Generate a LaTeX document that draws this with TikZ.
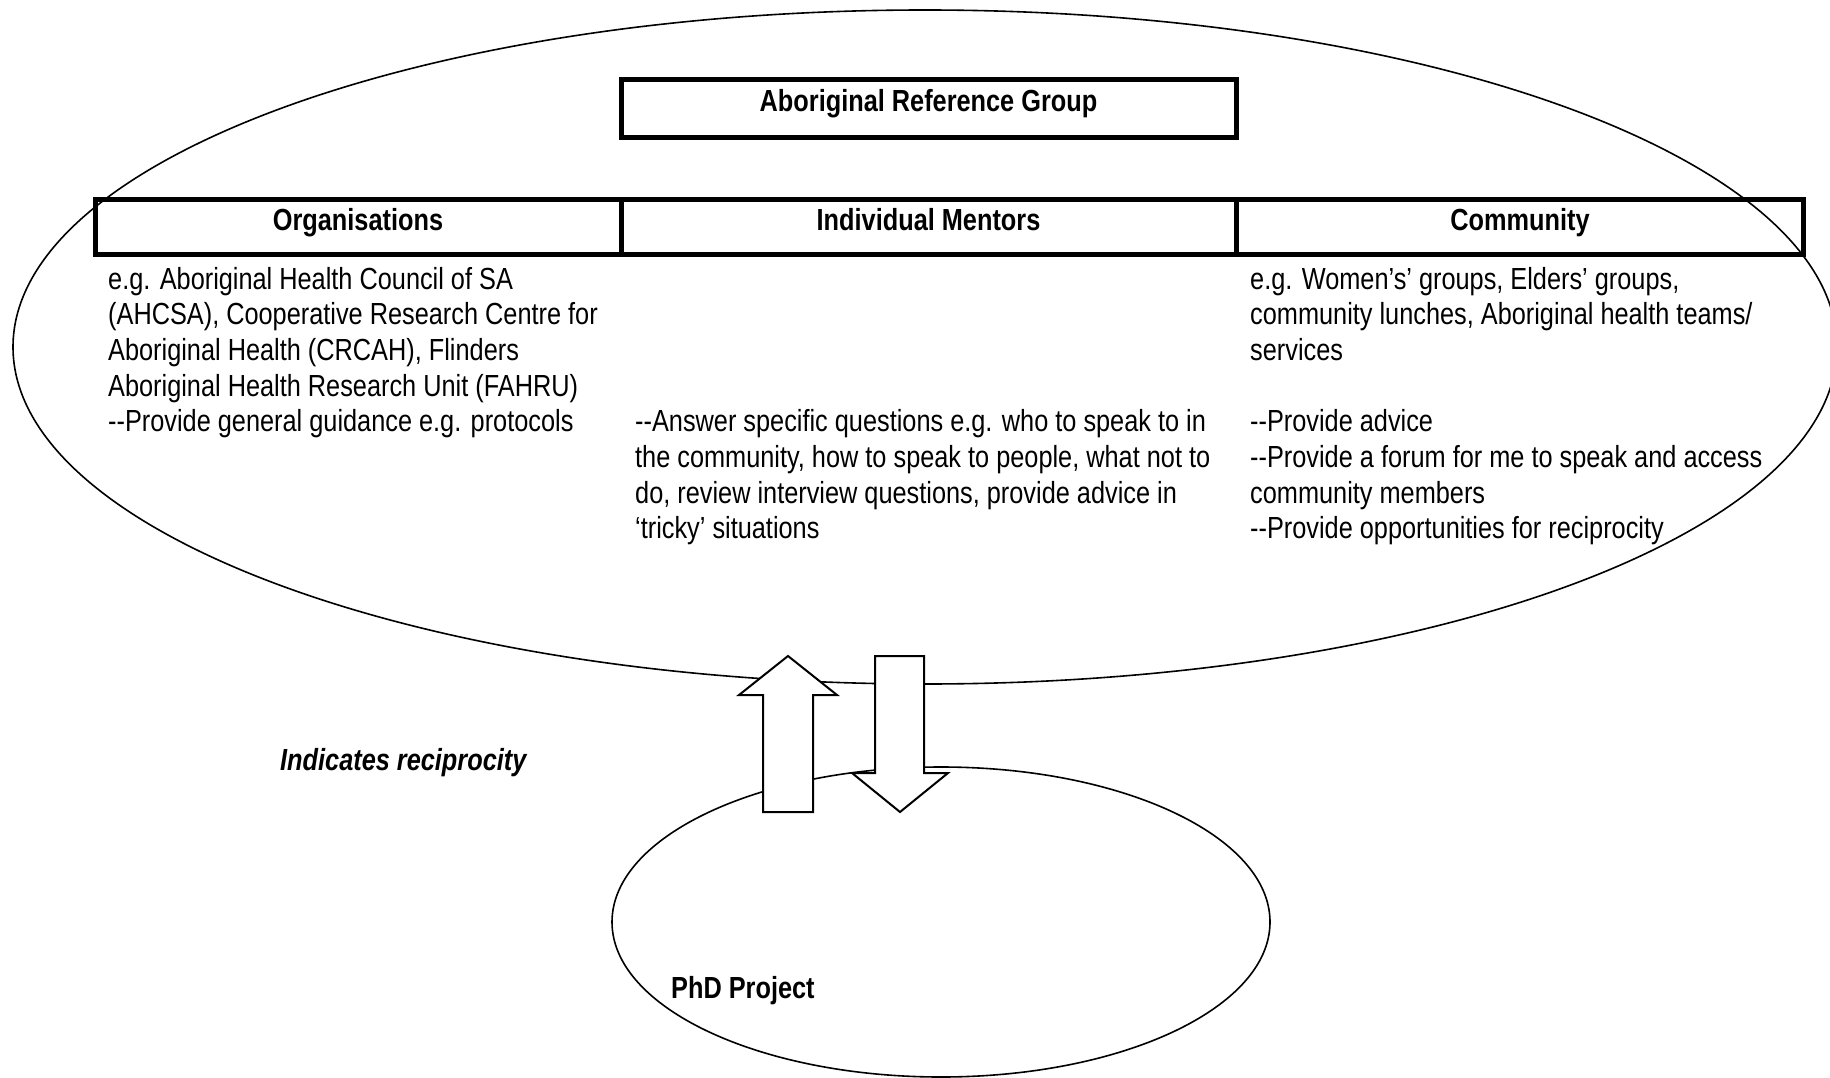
\documentclass[tikz,border=0pt]{standalone}
\usepackage{fontspec}
\setmainfont{Liberation Sans}[FakeStretch=0.83, Ligatures=TeXOff]
\begin{document}
\begin{tikzpicture}[x=1pt,y=-1pt,
  thickbox/.style={draw=black, line width=5pt, rectangle, inner sep=0pt},
  thinline/.style={draw=black, line width=1.6pt},
  bigarrow/.style={draw=black, fill=white, line width=2pt, line join=miter},
  txt/.style={anchor=base west, inner sep=0pt, font=\fontsize{30.5}{35.7}\selectfont},
  hdr/.style={anchor=base, inner sep=0pt, font=\fontsize{30.5}{35.7}\selectfont\bfseries},
  every node/.append style={text=black}]
\useasboundingbox (0,0) rectangle (1830,1078);
% ellipses
\draw[thinline] (925,347) ellipse [x radius=912, y radius=337];
\draw[thinline] (941,922) ellipse [x radius=329, y radius=155];
% top box
\node[thickbox, minimum width=615pt, minimum height=58pt] (arg) at (928.5,108.5) {};
\node[hdr] (argt) at (928.5,112) {Aboriginal Reference Group};
% header row
\node[thickbox, minimum width=1708pt, minimum height=55pt] (row) at (949.5,227) {};
\coordinate (d1t) at (621,199.5);
\coordinate (d1b) at (621,254.5);
\coordinate (d2t) at (1236,199.5);
\coordinate (d2b) at (1236,254.5);
\draw[line width=5pt] (d1t) -- (d1b);
\draw[line width=5pt] (d2t) -- (d2b);
\node[hdr] (h1) at (358,230) {Organisations};
\node[hdr] (h2) at (928.5,230) {Individual Mentors};
\node[hdr] (h3) at (1520,230) {Community};
% column texts
\node[txt] (c1) at (108,289) {\parbox[t]{520pt}{\raggedright
e.g. Aboriginal Health Council of SA\\
(AHCSA), Cooperative Research Centre for\\
Aboriginal Health (CRCAH), Flinders\\
Aboriginal Health Research Unit (FAHRU)\\
--Provide general guidance e.g. protocols}};
\node[txt] (c2) at (635,431.8) {\parbox[t]{600pt}{\raggedright
--Answer specific questions e.g. who to speak to in\\
the community, how to speak to people, what not to\\
do, review interview questions, provide advice in\\
‘tricky’ situations}};
\node[txt] (c3) at (1250,289) {\parbox[t]{600pt}{\raggedright
e.g. Women’s’ groups, Elders’ groups,\\
community lunches, Aboriginal health teams/\\
services\\[35.7pt]
--Provide advice\\
--Provide a forum for me to speak and access\\
community members\\
--Provide opportunities for reciprocity}};
% labels
\node[txt, font=\fontsize{30.5}{35.7}\selectfont\bfseries\itshape] (recip) at (280,770) {Indicates reciprocity};
\node[txt, font=\fontsize{30.5}{35.7}\selectfont\bfseries] (phd) at (671,998) {PhD Project};
% arrows
\draw[bigarrow] (763,812) -- (763,695) -- (739,695) -- (788,656) -- (837,695) -- (813,695) -- (813,812) -- cycle;
\draw[bigarrow] (875,656) -- (924,656) -- (924,773) -- (948,773) -- (900,812) -- (852,773) -- (875,773) -- cycle;
\end{tikzpicture}
\end{document}
